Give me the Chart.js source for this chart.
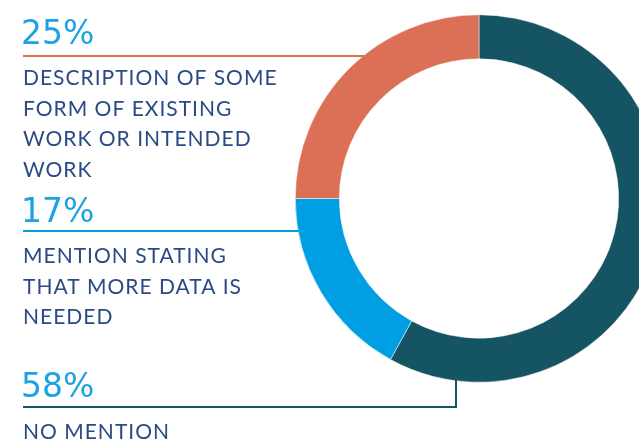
<!DOCTYPE html>
<html>
<head>
<meta charset="utf-8">
<script src="https://cdn.jsdelivr.net/npm/chart.js@4/dist/chart.umd.min.js"></script>
<style>
  html, body { margin: 0; padding: 0; background: #fff; overflow: hidden; }
  #wrap { position: relative; width: 700px; height: 441px; }
</style>
</head>
<body>
<div id="wrap"><canvas id="ringChart" width="700" height="441"></canvas></div>
<script>
// chart data, clockwise from the top
var labels = ["No mention", "Mention stating that more data is needed", "Description of some form of existing work or intended work"];
var values = [58, 17, 25];
var colors = ["#155463", "#009fe3", "#db7056"];

// callout text, one entry per slice (same order as values)
var pctLabels = ["58%", "17%", "25%"];
var descLines = [
  ["NO MENTION"],
  ["MENTION STATING", "THAT MORE DATA IS", "NEEDED"],
  ["DESCRIPTION OF SOME", "FORM OF EXISTING", "WORK OR INTENDED", "WORK"]
];

var pctColor = "#1ba3e1";
var textColor = "#2a4a86";

// where each callout sits (left column)
var callouts = [
  { pctY: 397, lineY: 407, descY: 439, elbowX: 456 },
  { pctY: 222, lineY: 231, descY: 263 },
  { pctY: 44,  lineY: 56,  descY: 85 }
];

var calloutPlugin = {
  id: 'callouts',
  afterDraw: function(chart) {
    var ctx = chart.ctx;
    var arc = chart.getDatasetMeta(0).data[0];
    var cx = arc.x, cy = arc.y, r = arc.outerRadius;
    ctx.save();
    for (var i = 0; i < callouts.length; i++) {
      var c = callouts[i];
      // leader line
      ctx.strokeStyle = colors[i];
      ctx.lineWidth = 2;
      ctx.beginPath();
      ctx.moveTo(23, c.lineY);
      if (c.elbowX) {
        var yEdge = cy + Math.sqrt(r * r - (c.elbowX - cx) * (c.elbowX - cx));
        ctx.lineTo(c.elbowX, c.lineY);
        ctx.lineTo(c.elbowX, yEdge - 1);
      } else {
        var xEdge = cx - Math.sqrt(r * r - (c.lineY - cy) * (c.lineY - cy));
        ctx.lineTo(xEdge + 1, c.lineY);
      }
      ctx.stroke();

      // percentage
      ctx.fillStyle = pctColor;
      ctx.font = '33px "DejaVu Sans"';
      ctx.letterSpacing = '0px';
      ctx.textBaseline = 'alphabetic';
      ctx.fillText(pctLabels[i], 21, c.pctY);

      // description
      ctx.fillStyle = textColor;
      ctx.font = '21px Lato';
      ctx.letterSpacing = '1px';
      for (var j = 0; j < descLines[i].length; j++) {
        ctx.fillText(descLines[i][j], 23, c.descY + j * 30.5);
      }
    }
    ctx.restore();
  }
};

var chart = new Chart(document.getElementById('ringChart'), {
  type: 'doughnut',
  data: {
    labels: labels,
    datasets: [{
      data: values,
      backgroundColor: colors,
      borderColor: '#ffffff',
      borderWidth: 0.5
    }]
  },
  options: {
    responsive: false,
    animation: false,
    cutout: '76%',
    layout: { padding: { left: 295, right: 37, top: 14, bottom: 58 } },
    plugins: {
      legend: { display: false },
      tooltip: { enabled: false }
    }
  },
  plugins: [calloutPlugin]
});
</script>
</body>
</html>
